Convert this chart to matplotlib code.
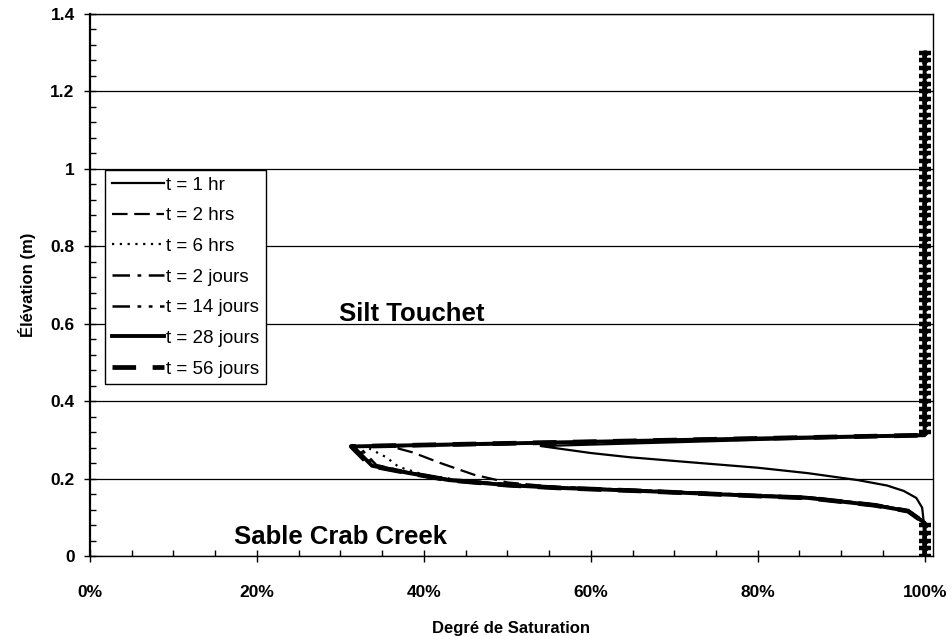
import matplotlib
matplotlib.use("Agg")
import matplotlib.pyplot as plt
from matplotlib.ticker import MultipleLocator, PercentFormatter, FuncFormatter

plt.rcParams["font.family"] = ["Liberation Sans", "DejaVu Sans"]

# ===============================
# DONNÉES (degré de saturation, élévation en m)
# ===============================

sat_1h = [1.0, 0.999, 0.997, 0.99, 0.975, 0.955, 0.92, 0.86, 0.80, 0.72, 0.647, 0.60, 0.54, 1.0, 1.0]
elev_1h = [0.0, 0.086, 0.125, 0.150, 0.168, 0.182, 0.196, 0.214, 0.228, 0.242, 0.255, 0.266, 0.284, 0.312, 1.30]

sat_2h = [1.0, 1.0, 0.995, 0.98, 0.94, 0.86, 0.80, 0.66, 0.56, 0.50, 0.46, 0.42, 0.386, 0.36, 1.0, 1.0]
elev_2h = [0.0, 0.086, 0.095, 0.118, 0.133, 0.152, 0.157, 0.170, 0.178, 0.190, 0.210, 0.240, 0.268, 0.283, 0.312, 1.30]

sat_6h = [1.0, 1.0, 0.995, 0.98, 0.94, 0.86, 0.80, 0.66, 0.56, 0.50, 0.44, 0.40, 0.37, 0.355, 0.33, 1.0, 1.0]
elev_6h = [0.0, 0.086, 0.094, 0.117, 0.132, 0.151, 0.156, 0.169, 0.177, 0.184, 0.197, 0.210, 0.230, 0.255, 0.283, 0.312, 1.30]

sat_2j = [1.0, 1.0, 0.995, 0.98, 0.94, 0.86, 0.80, 0.66, 0.56, 0.50, 0.43, 0.38, 0.343, 0.322, 1.0, 1.0]
elev_2j = [0.0, 0.086, 0.095, 0.118, 0.133, 0.152, 0.157, 0.170, 0.178, 0.185, 0.198, 0.217, 0.235, 0.283, 0.312, 1.30]

sat_14j = [1.0, 1.0, 0.995, 0.98, 0.94, 0.86, 0.80, 0.66, 0.56, 0.50, 0.43, 0.38, 0.34, 0.318, 1.0, 1.0]
elev_14j = [0.0, 0.086, 0.094, 0.117, 0.132, 0.151, 0.156, 0.169, 0.177, 0.184, 0.197, 0.216, 0.234, 0.283, 0.312, 1.30]

sat_28j = [1.0, 1.0, 0.995, 0.98, 0.94, 0.86, 0.80, 0.66, 0.56, 0.50, 0.43, 0.38, 0.338, 0.315, 1.0, 1.0]
elev_28j = [0.0, 0.086, 0.093, 0.116, 0.131, 0.150, 0.155, 0.168, 0.176, 0.183, 0.196, 0.215, 0.233, 0.283, 0.312, 1.30]

sat_56j = [1.0, 1.0, 0.995, 0.98, 0.94, 0.86, 0.80, 0.66, 0.56, 0.50, 0.43, 0.38, 0.336, 0.313, 1.0, 1.0]
elev_56j = [0.0, 0.086, 0.093, 0.116, 0.131, 0.150, 0.155, 0.168, 0.176, 0.183, 0.196, 0.215, 0.233, 0.283, 0.312, 1.30]

# noeuds saturés (100 %) dans le silt et au bas du sable
elev_noeuds = [0.0, 0.02, 0.04, 0.06, 0.08,
               0.32, 0.34, 0.36, 0.38, 0.40, 0.42, 0.44, 0.46, 0.48, 0.50,
               0.52, 0.54, 0.56, 0.58, 0.60, 0.62, 0.64, 0.66, 0.68, 0.70,
               0.72, 0.74, 0.76, 0.78, 0.80, 0.82, 0.84, 0.86, 0.88, 0.90,
               0.92, 0.94, 0.96, 0.98, 1.00, 1.02, 1.04, 1.06, 1.08, 1.10,
               1.12, 1.14, 1.16, 1.18, 1.20, 1.22, 1.24, 1.26, 1.28, 1.30]
sat_noeuds = [1.0] * len(elev_noeuds)

# ===============================
# GRAPHIQUE
# ===============================

fig = plt.figure(figsize=(9.53, 6.36), dpi=100)
ax = fig.add_axes([0.0944, 0.1258, 0.8846, 0.8522])

ax.plot(sat_1h, elev_1h, color="black", lw=1.6, ls="-", label="t = 1 hr")
ax.plot(sat_2h, elev_2h, color="black", lw=1.6, ls=(0, (7, 3)), label="t = 2 hrs")
ax.plot(sat_6h, elev_6h, color="black", lw=1.6, ls=(0, (1, 2.5)), label="t = 6 hrs")
ax.plot(sat_2j, elev_2j, color="black", lw=1.8, ls=(0, (7, 3, 1.5, 3)), label="t = 2 jours")
ax.plot(sat_14j, elev_14j, color="black", lw=1.8, ls=(0, (7, 3, 1.5, 3, 1.5, 3)), label="t = 14 jours")
ax.plot(sat_28j, elev_28j, color="black", lw=2.8, ls="-", label="t = 28 jours")
ax.plot(sat_56j, elev_56j, color="black", lw=3.4, ls=(0, (5, 3.5)), label="t = 56 jours")

ax.plot(sat_noeuds, elev_noeuds, color="black", lw=0, marker="_", ms=9, mew=3.2)
ax.plot(sat_noeuds, elev_noeuds, color="black", lw=0, marker="o", ms=3.5)

ax.set_xlim(0, 1.01)
ax.set_ylim(0, 1.4)

ax.xaxis.set_major_locator(MultipleLocator(0.2))
ax.xaxis.set_minor_locator(MultipleLocator(0.05))
ax.yaxis.set_major_locator(MultipleLocator(0.2))
ax.yaxis.set_minor_locator(MultipleLocator(0.04))
ax.xaxis.set_major_formatter(PercentFormatter(1.0, decimals=0))
ax.yaxis.set_major_formatter(FuncFormatter(lambda v, p: "{:g}".format(round(v, 2))))

ax.grid(axis="y", which="major", color="black", lw=0.9)
ax.tick_params(which="major", direction="inout", length=8, width=1, labelsize=12.5)
ax.tick_params(axis="x", which="major", pad=17)
ax.tick_params(axis="y", which="major", pad=7)
ax.tick_params(which="minor", direction="in", length=4, width=1)
for lab in ax.get_xticklabels() + ax.get_yticklabels():
    lab.set_fontweight("bold")

for s in ax.spines.values():
    s.set_color("black")
    s.set_linewidth(1.0)
ax.spines["left"].set_linewidth(1.6)

ax.set_xlabel("Degré de Saturation", fontsize=12, fontweight="bold", labelpad=15)
ax.set_ylabel("Élévation (m)", fontsize=12, fontweight="bold", labelpad=10)

ax.text(0.386, 0.625, "Silt Touchet", fontsize=18.5, fontweight="bold", ha="center", va="center")
ax.text(0.30, 0.05, "Sable Crab Creek", fontsize=18.5, fontweight="bold", ha="center", va="center")

leg = ax.legend(loc="upper left", bbox_to_anchor=(0.018, 0.712), borderaxespad=0,
                fontsize=13.5, handlelength=2.8, handletextpad=0.1, labelspacing=0.72,
                borderpad=0.35, fancybox=False, framealpha=1)
leg.get_frame().set_edgecolor("black")
leg.get_frame().set_linewidth(1.0)

fig.savefig("out.png", dpi=100)
plt.close()
